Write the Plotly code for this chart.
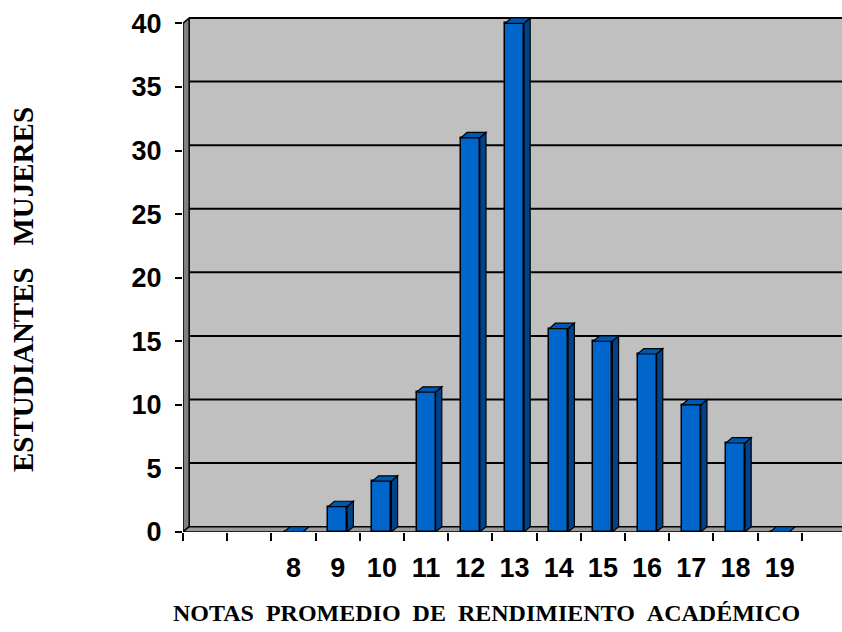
import plotly.graph_objects as go

# ---- data ----
categories = ["", "", "8", "9", "10", "11", "12", "13", "14", "15", "16", "17", "18", "19"]
values = [None, None, 0, 2, 4, 11, 31, 40, 16, 15, 14, 10, 7, 0]
y_ticks = [0, 5, 10, 15, 20, 25, 30, 35, 40]
x_title = "NOTAS\u00a0\u00a0PROMEDIO\u00a0\u00a0DE\u00a0\u00a0RENDIMIENTO\u00a0\u00a0ACADÉMICO"
y_title = "ESTUDIANTES\u00a0\u00a0\u00a0MUJERES"

# ---- styling constants ----
BAR_W = 0.43
DX = 0.14     # 3D depth offset in x units
DY = 0.42     # 3D depth offset in y units
X_MIN, X_MAX = -0.5, 14.41
Y_MAX = 40.5
FRONT = "#0066CC"
SIDE = "#00438A"
TOP = "#0057B0"
WALL = "#C0C0C0"
SIDEWALL = "#808080"
FLOOR = "#9A9A9A"

xs = list(range(len(categories)))

fig = go.Figure()
fig.add_trace(go.Bar(
    x=xs, y=values, width=BAR_W,
    marker=dict(color=FRONT, line=dict(color="black", width=1.5)),
    hoverinfo="skip", showlegend=False,
))

shapes = []
# back wall
shapes.append(dict(type="path", layer="below",
                   path=f"M {X_MIN+DX},{DY} L {X_MAX},{DY} L {X_MAX},{max(y_ticks)+DY} L {X_MIN+DX},{max(y_ticks)+DY} Z",
                   fillcolor=WALL, line=dict(width=0)))
# left side wall
shapes.append(dict(type="path", layer="below",
                   path=f"M {X_MIN},0 L {X_MIN+DX},{DY} L {X_MIN+DX},{max(y_ticks)+DY} L {X_MIN},{max(y_ticks)} Z",
                   fillcolor=SIDEWALL, line=dict(color="black", width=1.5)))
# floor
shapes.append(dict(type="path", layer="below",
                   path=f"M {X_MIN},0 L {X_MAX+1},0 L {X_MAX+1},{DY} L {X_MIN+DX},{DY} Z",
                   fillcolor=FLOOR, line=dict(color="black", width=1.5)))
# gridlines on back wall
for t in y_ticks[1:]:
    shapes.append(dict(type="line", layer="below",
                       x0=X_MIN+DX, x1=X_MAX, y0=t+DY, y1=t+DY,
                       line=dict(color="black", width=2.2 if t == max(y_ticks) else 2)))
# 3D faces of bars
for i, v in zip(xs, values):
    if v is None:
        continue
    xl, xr = i - BAR_W/2, i + BAR_W/2
    if v > 0:
        shapes.append(dict(type="path", layer="above",
                           path=f"M {xr},0 L {xr+DX},{DY} L {xr+DX},{v+DY} L {xr},{v} Z",
                           fillcolor=SIDE, line=dict(color="black", width=1.2)))
    shapes.append(dict(type="path", layer="above",
                       path=f"M {xl},{v} L {xr},{v} L {xr+DX},{v+DY} L {xl+DX},{v+DY} Z",
                       fillcolor=TOP, line=dict(color="black", width=1.2)))

tick_font = dict(family="Liberation Sans, Arial, sans-serif", size=27, color="black", weight="bold")
title_font = dict(family="Liberation Serif, Times New Roman, serif", color="black", weight="bold")

fig.update_layout(
    width=842, height=632,
    margin=dict(l=183, r=0, t=17, b=100, autoexpand=False),
    paper_bgcolor="white", plot_bgcolor="white",
    shapes=shapes,
    bargap=0,
    xaxis=dict(
        range=[X_MIN, X_MAX], tickvals=xs, ticktext=categories, ticks="",
        showgrid=False, zeroline=False, showline=False, automargin=False,
        tickfont=tick_font, ticklabelstandoff=17,
        minor=dict(ticks="outside", tickmode="linear", tick0=-0.5, dtick=1,
                   ticklen=8, tickwidth=1.5, tickcolor="black", showgrid=False),
        fixedrange=True,
    ),
    yaxis=dict(
        range=[0, Y_MAX], tickvals=y_ticks, ticks="outside", ticklen=7,
        tickwidth=1.5, tickcolor="black", showgrid=False, zeroline=False,
        showline=False, tickfont=tick_font, ticklabelstandoff=8, automargin=False,
        fixedrange=True,
    ),
    annotations=[
        dict(text=x_title, xref="paper", yref="paper", x=(486-183)/659, y=(532-613)/515,
             xanchor="center", yanchor="middle", showarrow=False,
             font=dict(size=24, **title_font)),
        dict(text=y_title, xref="paper", yref="paper", x=(23-183)/659, y=(532-290)/515,
             xanchor="center", yanchor="middle", showarrow=False, textangle=-90,
             font=dict(size=29, **title_font)),
    ],
)

fig.write_html("out.html", config={"displayModeBar": False},
               post_script="document.body.style.margin='0';document.body.style.overflow='hidden';")
